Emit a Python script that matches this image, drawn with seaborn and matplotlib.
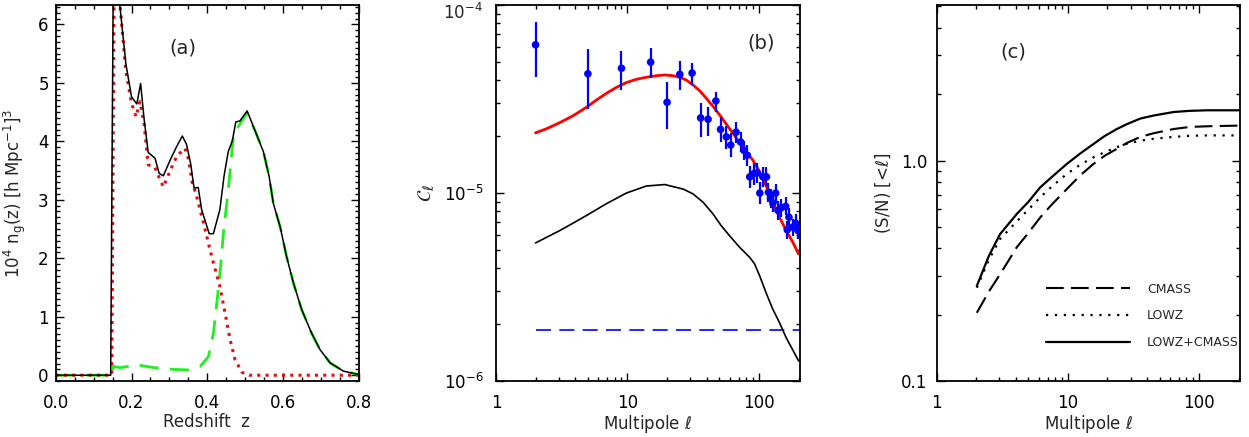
import numpy as np
import pandas as pd
import matplotlib
matplotlib.use("Agg")
import matplotlib.pyplot as plt
import matplotlib.ticker as mticker
import seaborn as sns

# ---------------- data: panel (a) redshift distributions ----------------
z_total = [0.0, 0.145, 0.152, 0.160, 0.168, 0.185, 0.200, 0.214, 0.224, 0.233, 0.244,
           0.262, 0.273, 0.284, 0.302, 0.319, 0.334, 0.345, 0.356, 0.365, 0.376, 0.385,
           0.405, 0.416, 0.433, 0.444, 0.455, 0.466, 0.475, 0.486, 0.505, 0.526, 0.548,
           0.563, 0.574, 0.592, 0.609, 0.627, 0.649, 0.675, 0.697, 0.724, 0.759, 0.800]
n_total = [0.0, 0.0, 6.9, 7.2, 6.4, 5.33, 4.76, 4.64, 4.99, 4.39, 3.81,
           3.71, 3.45, 3.41, 3.68, 3.91, 4.09, 3.95, 3.62, 3.20, 3.21, 2.83,
           2.42, 2.42, 2.83, 3.40, 3.82, 4.01, 4.33, 4.35, 4.52, 4.18, 3.82,
           3.40, 2.94, 2.54, 2.03, 1.58, 1.12, 0.72, 0.44, 0.21, 0.07, 0.01]

z_lowz = [0.0, 0.148, 0.154, 0.162, 0.170, 0.185, 0.200, 0.212, 0.222, 0.233, 0.244,
          0.262, 0.273, 0.284, 0.302, 0.319, 0.332, 0.341, 0.350, 0.360, 0.370, 0.380,
          0.392, 0.405, 0.416, 0.433, 0.447, 0.460, 0.473, 0.491, 0.510, 0.800]
n_lowz = [0.0, 0.0, 6.6, 6.9, 6.3, 5.20, 4.65, 4.42, 4.68, 4.30, 3.60,
          3.55, 3.38, 3.22, 3.50, 3.74, 3.83, 3.88, 3.70, 3.30, 3.10, 2.85,
          2.55, 2.20, 1.92, 1.52, 1.06, 0.61, 0.27, 0.05, 0.0, 0.0]

z_cmass = [0.0, 0.148, 0.152, 0.170, 0.190, 0.205, 0.222, 0.258, 0.310, 0.350, 0.381,
           0.403, 0.416, 0.426, 0.435, 0.444, 0.455, 0.469, 0.486, 0.505, 0.526, 0.548,
           0.563, 0.574, 0.592, 0.609, 0.627, 0.649, 0.675, 0.697, 0.724, 0.759, 0.800]
n_cmass = [0.0, 0.0, 0.15, 0.13, 0.15, 0.18, 0.17, 0.13, 0.10, 0.09, 0.15,
           0.32, 0.72, 1.29, 1.86, 2.54, 3.15, 4.10, 4.30, 4.48, 4.18, 3.82,
           3.40, 2.94, 2.54, 2.03, 1.58, 1.12, 0.72, 0.44, 0.21, 0.07, 0.01]

# ---------------- data: panel (b) angular power spectrum ----------------
ell_model = [2.0, 2.43, 3.06, 3.86, 4.88, 5.82, 6.9, 8.24, 9.8, 11.7, 13.9, 16.6,
             19.2, 22.2, 25, 28, 31.5, 35.4, 39.8, 44.6, 50.3, 56.3, 63.4, 71.2,
             79.8, 89.6, 101, 113, 127, 143, 161, 181, 200]
cl_model = [2.09e-5, 2.20e-5, 2.37e-5, 2.58e-5, 2.86e-5, 3.13e-5, 3.39e-5, 3.65e-5,
            3.87e-5, 4.03e-5, 4.13e-5, 4.21e-5, 4.25e-5, 4.21e-5, 4.13e-5, 3.99e-5,
            3.76e-5, 3.50e-5, 3.19e-5, 2.90e-5, 2.60e-5, 2.33e-5, 2.08e-5, 1.85e-5,
            1.66e-5, 1.50e-5, 1.30e-5, 1.10e-5, 9.0e-6, 7.45e-6, 6.32e-6, 5.47e-6,
            4.74e-6]

ell_gal = [2.0, 2.43, 3.06, 3.86, 4.88, 6.9, 9.8, 13.9, 19.2, 26.5, 31.5, 37.5,
           44.6, 51.5, 59.6, 71.2, 85, 92.6, 101, 113, 127, 143, 161, 181, 200]
cl_gal = [5.43e-6, 5.82e-6, 6.32e-6, 6.92e-6, 7.60e-6, 8.77e-6, 1.0e-5, 1.09e-5,
          1.11e-5, 1.05e-5, 9.9e-6, 8.95e-6, 7.76e-6, 6.72e-6, 5.94e-6, 5.15e-6,
          4.55e-6, 4.20e-6, 3.64e-6, 2.96e-6, 2.42e-6, 2.05e-6, 1.70e-6, 1.46e-6,
          1.28e-6]

ell_noise = [2, 200]
cl_noise = [1.86e-6, 1.86e-6]

ell_obs = [2, 5, 9, 15, 20, 25, 31, 36, 41, 47, 51, 56.5, 61, 67, 72.5, 76.5, 81.5,
           85, 91.5, 97, 101.5, 107, 114, 118, 122.5, 127.5, 134, 139.5, 148, 159.5,
           164, 169, 181, 190, 198]
cl_obs = [6.15e-5, 4.31e-5, 4.61e-5, 4.97e-5, 3.04e-5, 4.28e-5, 4.35e-5, 2.51e-5,
          2.47e-5, 3.09e-5, 2.18e-5, 1.99e-5, 1.80e-5, 2.11e-5, 1.87e-5, 1.69e-5,
          1.59e-5, 1.22e-5, 1.27e-5, 1.28e-5, 1.00e-5, 1.22e-5, 1.22e-5, 1.01e-5,
          9.33e-6, 8.84e-6, 1.00e-5, 8.09e-6, 8.36e-6, 8.49e-6, 6.38e-6, 7.44e-6,
          6.59e-6, 6.92e-6, 6.32e-6]
cl_obs_lo = [4.16e-5, 2.79e-5, 3.53e-5, 4.08e-5, 2.18e-5, 3.53e-5, 3.76e-5, 1.99e-5,
             2.00e-5, 2.70e-5, 1.87e-5, 1.72e-5, 1.55e-5, 1.85e-5, 1.65e-5, 1.50e-5,
             1.40e-5, 1.06e-5, 1.11e-5, 1.13e-5, 0.87e-5, 1.08e-5, 1.09e-5, 0.90e-5,
             8.3e-6, 7.9e-6, 8.9e-6, 7.2e-6, 7.5e-6, 7.6e-6, 5.7e-6, 6.7e-6,
             5.9e-6, 6.2e-6, 5.7e-6]
cl_obs_hi = [8.10e-5, 5.83e-5, 5.73e-5, 5.88e-5, 3.92e-5, 5.01e-5, 4.91e-5, 3.03e-5,
             2.88e-5, 3.46e-5, 2.53e-5, 2.28e-5, 2.08e-5, 2.38e-5, 2.10e-5, 1.90e-5,
             1.80e-5, 1.40e-5, 1.45e-5, 1.45e-5, 1.14e-5, 1.38e-5, 1.37e-5, 1.13e-5,
             1.05e-5, 9.9e-6, 1.12e-5, 9.1e-6, 9.3e-6, 9.5e-6, 7.1e-6, 8.3e-6,
             7.3e-6, 7.7e-6, 7.0e-6]

# ---------------- data: panel (c) cumulative S/N ----------------
ell_sn = [2.02, 2.5, 3.04, 4.08, 5.0, 6.15, 7.5, 9.82, 12.5, 15.7, 19.0, 23.6, 28.0,
          35.6, 45.0, 64.0, 85.0, 115.0, 200.0]
sn_cmass = [0.204, 0.255, 0.305, 0.405, 0.47, 0.552, 0.63, 0.743, 0.86, 0.966, 1.05,
            1.13, 1.20, 1.28, 1.33, 1.39, 1.42, 1.43, 1.44]
sn_lowz = [0.265, 0.355, 0.441, 0.530, 0.60, 0.681, 0.76, 0.870, 0.96, 1.035, 1.09,
           1.15, 1.19, 1.23, 1.255, 1.28, 1.295, 1.30, 1.30]
sn_total = [0.270, 0.37, 0.464, 0.573, 0.65, 0.756, 0.84, 0.966, 1.08, 1.19, 1.29,
            1.39, 1.46, 1.55, 1.60, 1.66, 1.68, 1.69, 1.69]
legend_labels = ["CMASS", "LOWZ", "LOWZ+CMASS"]

# ---------------- style ----------------
sns.set_theme(style="ticks")
plt.rcParams["font.family"] = ["DejaVu Sans"]
plt.rcParams["mathtext.fontset"] = "dejavusans"
plt.rcParams["axes.linewidth"] = 1.3
plt.rcParams["axes.edgecolor"] = "black"

fig = plt.figure(figsize=(12.49, 4.37), dpi=100)
axa = fig.add_axes([0.0446, 0.128, 0.2428, 0.8604])
axb = fig.add_axes([0.3971, 0.128, 0.2434, 0.8604])
axc = fig.add_axes([0.7500, 0.128, 0.2428, 0.8604])

FS = 12


def style_axis(ax, ypad=5):
    ax.tick_params(which="both", direction="in", top=True, right=True,
                   colors="black", labelsize=FS, width=1.0)
    ax.tick_params(which="major", length=6)
    ax.tick_params(which="minor", length=3)
    ax.tick_params(axis="x", pad=9)
    ax.tick_params(axis="y", pad=ypad)
    for s in ax.spines.values():
        s.set_linewidth(1.3)
        s.set_color("black")


def line(ax, x, y, **kw):
    sns.lineplot(x=x, y=y, ax=ax, estimator=None, sort=False, legend=False, **kw)


# ---- panel (a)
line(axa, z_cmass, n_cmass, color="#22ee22", linewidth=2.0, linestyle=(0, (7, 4)))
line(axa, z_lowz, n_lowz, color="#dd1111", linewidth=2.2, linestyle=(0, (1, 1.7)))
line(axa, z_total, n_total, color="black", linewidth=1.1)
axa.set_xlim(0.0, 0.8)
axa.set_ylim(-0.1, 6.33)
axa.xaxis.set_major_locator(mticker.MultipleLocator(0.2))
axa.xaxis.set_minor_locator(mticker.MultipleLocator(0.05))
axa.yaxis.set_major_locator(mticker.MultipleLocator(1))
axa.yaxis.set_minor_locator(mticker.MultipleLocator(0.1))
axa.xaxis.set_major_formatter(mticker.FormatStrFormatter("%.1f"))
axa.yaxis.set_major_formatter(mticker.FormatStrFormatter("%d"))
axa.set_xlabel("Redshift  z", fontsize=FS)
axa.set_ylabel(r"10$^4$ n$_{\rm g}$(z) [h Mpc$^{-1}$]$^3$", fontsize=FS)
axa.xaxis.set_label_coords(0.498, -0.085)
axa.yaxis.set_label_coords(-0.091, 0.5)
axa.text(0.42, 0.886, "(a)", transform=axa.transAxes, fontsize=14,
         ha="center", va="center")
style_axis(axa, ypad=5)

# ---- panel (b)
axb.set_xscale("log")
axb.set_yscale("log")
line(axb, ell_noise, cl_noise, color="#0000ff", linewidth=1.2, linestyle=(0, (9, 5)))
line(axb, ell_gal, cl_gal, color="black", linewidth=1.2)
line(axb, ell_model, cl_model, color="#ff0000", linewidth=2.0)
obs = np.array(cl_obs)
yerr = [obs - np.array(cl_obs_lo), np.array(cl_obs_hi) - obs]
axb.errorbar(ell_obs, cl_obs, yerr=yerr, fmt="none", ecolor="#0000ff",
             elinewidth=1.6, capsize=0, zorder=3)
sns.scatterplot(x=ell_obs, y=cl_obs, ax=axb, color="#0000ff", s=30,
                edgecolor="none", zorder=4, legend=False)
axb.set_xlim(1, 205)
axb.set_ylim(1e-6, 1e-4)
axb.xaxis.set_major_formatter(mticker.FuncFormatter(lambda v, p: "%g" % v))
axb.yaxis.set_major_locator(mticker.FixedLocator([1e-6, 1e-5, 1e-4]))
axb.yaxis.set_major_formatter(mticker.FixedFormatter(
    [r"$\mathdefault{10^{-6}}$", r"$\mathdefault{10^{-5}}$", ""]))
axb.text(-13 / 304, 1.006, r"$\mathdefault{10^{-4}}$", transform=axb.transAxes,
         ha="right", va="top", fontsize=FS)
axb.set_xlabel(r"Multipole $\ell$", fontsize=FS)
axb.set_ylabel(r"$\mathcal{C}_\ell$", fontsize=14)
axb.xaxis.set_label_coords(0.5, -0.085)
axb.yaxis.set_label_coords(-0.194, 0.5)
axb.text(0.871, 0.899, "(b)", transform=axb.transAxes, fontsize=14,
         ha="center", va="center")
style_axis(axb, ypad=9)

# ---- panel (c)
axc.set_xscale("log")
axc.set_yscale("log")
line(axc, ell_sn, sn_cmass, color="black", linewidth=1.5, linestyle=(0, (8.5, 3.5)),
     label=legend_labels[0])
line(axc, ell_sn, sn_lowz, color="black", linewidth=1.6, linestyle=(0, (1, 3)),
     label=legend_labels[1])
line(axc, ell_sn, sn_total, color="black", linewidth=1.6, label=legend_labels[2])
axc.set_xlim(1, 205)
axc.set_ylim(0.1, 5.07)
axc.xaxis.set_major_formatter(mticker.FuncFormatter(lambda v, p: "%g" % v))
axc.yaxis.set_major_locator(mticker.FixedLocator([0.1, 1.0]))
axc.yaxis.set_major_formatter(mticker.FixedFormatter(["0.1", "1.0"]))
axc.yaxis.set_minor_locator(mticker.LogLocator(base=10, subs=np.arange(2, 10)))
axc.yaxis.set_minor_formatter(mticker.NullFormatter())
axc.set_xlabel(r"Multipole $\ell$", fontsize=FS)
axc.set_ylabel(r"(S/N) [<$\ell$]", fontsize=FS)
axc.xaxis.set_label_coords(0.5, -0.085)
axc.yaxis.set_label_coords(-0.144, 0.5)
axc.text(0.252, 0.875, "(c)", transform=axc.transAxes, fontsize=14,
         ha="center", va="center")
handles = axc.get_lines()[-3:]
axc.legend(handles, legend_labels, loc="upper left", bbox_to_anchor=(0.36, 0.262),
           frameon=False, fontsize=9, handlelength=6.7, handletextpad=1.4,
           labelspacing=1.1, borderpad=0, borderaxespad=0)
style_axis(axc, ypad=7)

fig.savefig("out.png", dpi=100)
